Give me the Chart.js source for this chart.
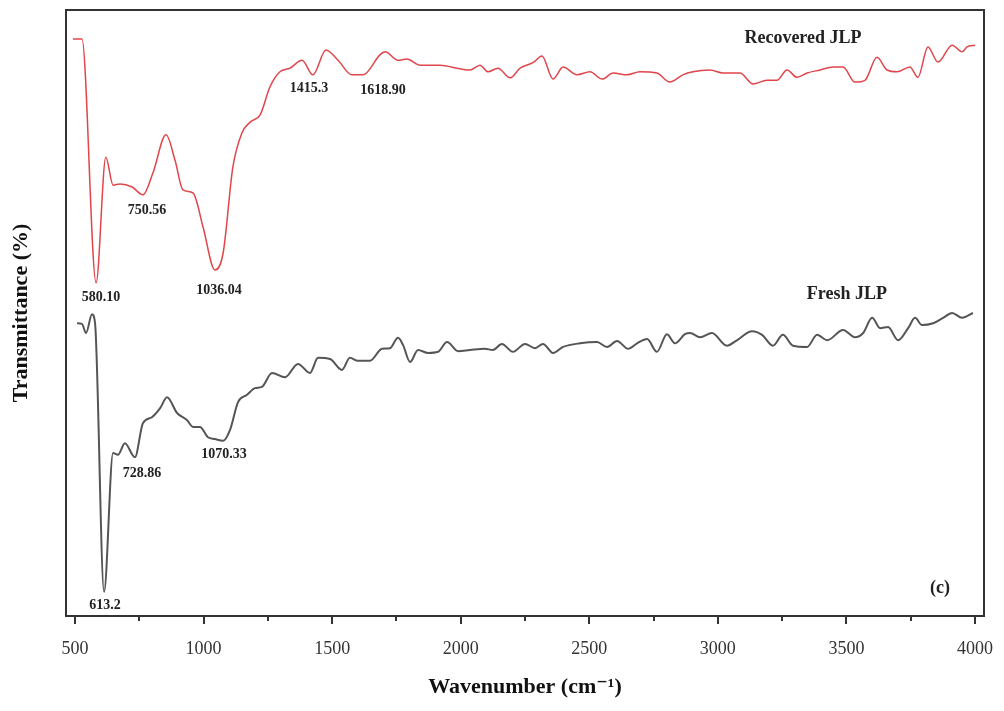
<!DOCTYPE html>
<html>
<head>
<meta charset="utf-8">
<script src="https://cdn.jsdelivr.net/npm/chart.js@4"></script>
<style>
  body { margin: 0; background: #fff; }
  #wrap { width: 1004px; height: 711px; }
</style>
</head>
<body>
<div id="wrap"><canvas id="graficoFTIR" width="1004" height="711"></canvas></div>
<script>
// Espectro FTIR (números de onda en cm-1, transmitancia relativa)
const recoveredX = [492, 527, 582, 620, 648, 675, 722, 764, 803, 854, 889, 920, 959, 998, 1044, 1076,
  1114, 1149, 1181, 1220, 1258, 1297, 1336, 1383, 1425, 1476, 1523, 1577, 1620, 1686, 1706, 1756, 1791,
  1842, 1919, 1997, 2036, 2075, 2106, 2145, 2192, 2231, 2281, 2316, 2359, 2398, 2452, 2503, 2550, 2593,
  2647, 2697, 2763, 2813, 2864, 2903, 2969, 3020, 3086, 3137, 3191, 3230, 3269, 3308, 3347, 3397, 3448,
  3487, 3533, 3572, 3619, 3658, 3697, 3747, 3778, 3817, 3856, 3911, 3950, 3969, 4000];
const recoveredY = [95.2, 95.2, 55.0, 75.7, 71.1, 71.3, 70.8, 69.5, 73.1, 79.4, 75.2, 70.3, 69.8, 64.2, 57.1, 59.9,
  74.1, 79.7, 81.5, 82.7, 87.3, 89.8, 90.4, 91.7, 89.3, 93.4, 91.7, 89.3, 89.3, 92.6, 93.1, 91.7, 91.9,
  90.9, 90.9, 90.3, 90.1, 90.9, 89.8, 90.4, 88.8, 90.4, 91.3, 92.4, 88.6, 90.6, 89.3, 89.8, 88.6, 89.6,
  89.3, 89.8, 89.6, 88.1, 89.3, 89.8, 90.1, 89.6, 89.6, 87.8, 88.4, 88.4, 90.1, 88.9, 89.6, 90.1, 90.6,
  90.6, 88.1, 88.4, 92.2, 90.1, 89.8, 90.6, 88.9, 93.9, 91.4, 94.2, 93.1, 93.9, 94.2];

const freshX = [508, 527, 543, 566, 578, 613, 648, 667, 694, 733, 764, 799, 831, 858, 897, 936, 959, 986,
  1017, 1044, 1076, 1103, 1134, 1169, 1200, 1227, 1266, 1317, 1367, 1414, 1445, 1492, 1538, 1569, 1600,
  1647, 1694, 1725, 1756, 1776, 1803, 1834, 1873, 1912, 1947, 1990, 2036, 2094, 2125, 2160, 2203, 2250,
  2289, 2320, 2359, 2398, 2464, 2530, 2569, 2608, 2651, 2686, 2725, 2763, 2802, 2833, 2872, 2892, 2931,
  2977, 3035, 3074, 3133, 3172, 3214, 3253, 3292, 3347, 3386, 3425, 3487, 3533, 3565, 3600, 3631, 3662,
  3701, 3740, 3767, 3794, 3837, 3876, 3911, 3950, 3992];
const freshY = [48.3, 48.2, 46.7, 49.8, 48.3, 4.0, 26.9, 26.6, 28.5, 26.2, 31.8, 32.8, 34.3, 36.1, 33.5, 32.3, 31.2, 31.2,
  29.5, 29.2, 28.9, 30.7, 35.3, 36.5, 37.6, 37.8, 40.1, 39.4, 41.6, 40.1, 42.6, 42.4, 40.6, 42.6, 42.1,
  42.1, 44.1, 44.2, 45.9, 44.7, 41.9, 43.9, 43.4, 43.6, 45.2, 43.7, 43.9, 44.1, 43.9, 44.9, 43.6, 44.9,
  44.2, 44.9, 43.4, 44.4, 45.0, 45.2, 44.4, 45.4, 44.1, 45.0, 45.7, 43.6, 46.5, 45.0, 46.5, 46.7, 46.0,
  46.7, 44.6, 45.5, 47.0, 46.4, 44.6, 46.4, 44.6, 44.4, 46.4, 45.5, 47.2, 46.0, 46.7, 49.2, 47.5, 47.7,
  45.5, 47.5, 49.2, 48.0, 48.3, 49.2, 50.0, 49.2, 50.0];

// Marcas del eje X
const ticksMayores = [500, 1000, 1500, 2000, 2500, 3000, 3500, 4000];
const ticksMenores = [750, 1250, 1750, 2250, 2750, 3250, 3750];

// Etiquetas de picos y rótulos
const etiquetasTexto = ['580.10', '750.56', '1036.04', '1415.3', '1618.90', '728.86', '1070.33', '613.2'];
const etiquetasX = [601, 780, 1060, 1410, 1698, 761, 1079, 617];
const etiquetasY = [52.6, 67.0, 53.8, 87.1, 86.8, 23.6, 26.6, 1.7];
const rotulosTexto = ['Recovered JLP', 'Fresh JLP', '(c)'];
const rotulosX = [3331, 3502, 3864];
const rotulosY = [95.4, 53.0, 4.6];

const serif = '"Liberation Serif", "DejaVu Serif", serif';

function puntos(xs, ys) {
    return xs.map((x, i) => ({ x: x, y: ys[i] }));
}

// Marco completo, ticks y textos
const pluginMarco = {
    id: 'marco',
    afterDatasetsDraw(chart) {
        const ctx = chart.ctx;
        const a = chart.chartArea;
        const sx = chart.scales.x;
        const sy = chart.scales.y;
        ctx.save();
        ctx.strokeStyle = '#333';
        ctx.lineWidth = 2;
        ctx.strokeRect(a.left, a.top, a.right - a.left, a.bottom - a.top);

        const dibujarTick = (v, largo) => {
            const px = Math.round(sx.getPixelForValue(v));
            ctx.beginPath();
            ctx.moveTo(px, a.bottom);
            ctx.lineTo(px, a.bottom + largo);
            ctx.stroke();
        };
        ticksMayores.forEach(v => dibujarTick(v, 8));
        ticksMenores.forEach(v => dibujarTick(v, 5));

        ctx.fillStyle = '#222';
        ctx.textAlign = 'center';
        ctx.textBaseline = 'middle';
        ctx.font = 'bold 14px ' + serif;
        etiquetasTexto.forEach((t, i) => {
            ctx.fillText(t, sx.getPixelForValue(etiquetasX[i]), sy.getPixelForValue(etiquetasY[i]));
        });
        ctx.font = 'bold 18px ' + serif;
        rotulosTexto.forEach((t, i) => {
            ctx.fillText(t, sx.getPixelForValue(rotulosX[i]), sy.getPixelForValue(rotulosY[i]));
        });
        ctx.restore();
    }
};

const ctx = document.getElementById('graficoFTIR').getContext('2d');
new Chart(ctx, {
    type: 'line',
    data: {
        datasets: [{
            label: 'Recovered JLP',
            data: puntos(recoveredX, recoveredY),
            borderColor: '#e0464b',
            borderWidth: 1.5,
            pointRadius: 0,
            cubicInterpolationMode: 'monotone',
        }, {
            label: 'Fresh JLP',
            data: puntos(freshX, freshY),
            borderColor: '#555555',
            borderWidth: 2,
            pointRadius: 0,
            cubicInterpolationMode: 'monotone',
        }]
    },
    options: {
        responsive: false,
        animation: false,
        layout: { padding: { top: 10, right: 20, left: 0, bottom: 0 } },
        plugins: {
            legend: { display: false },
            tooltip: { enabled: false }
        },
        scales: {
            x: {
                type: 'linear',
                min: 465,
                max: 4035,
                afterFit: (scale) => {
                    scale.height = 95;
                    scale.paddingRight = 0; // la etiqueta 4000 cabe en el margen
                    scale.paddingLeft = 0;
                },
                afterBuildTicks: (scale) => {
                    scale.ticks = ticksMayores.map(v => ({ value: v }));
                },
                grid: { display: false },
                border: { display: false },
                ticks: {
                    padding: 14,
                    color: '#333',
                    font: { family: serif, size: 18 },
                    callback: (v) => String(v)
                },
                title: {
                    display: true,
                    text: 'Wavenumber (cm⁻¹)',
                    color: '#111',
                    font: { family: serif, size: 22, weight: 'bold' },
                    padding: { top: 0, bottom: 10 }
                }
            },
            y: {
                min: 0,
                max: 100,
                afterFit: (scale) => { scale.width = 66; },
                grid: { display: false },
                border: { display: false },
                ticks: { display: false },
                title: {
                    display: true,
                    text: 'Transmittance (%)',
                    color: '#111',
                    font: { family: serif, size: 22, weight: 'bold' },
                    padding: { top: 8, bottom: 0 }
                }
            }
        }
    },
    plugins: [pluginMarco]
});
</script>
</body>
</html>
